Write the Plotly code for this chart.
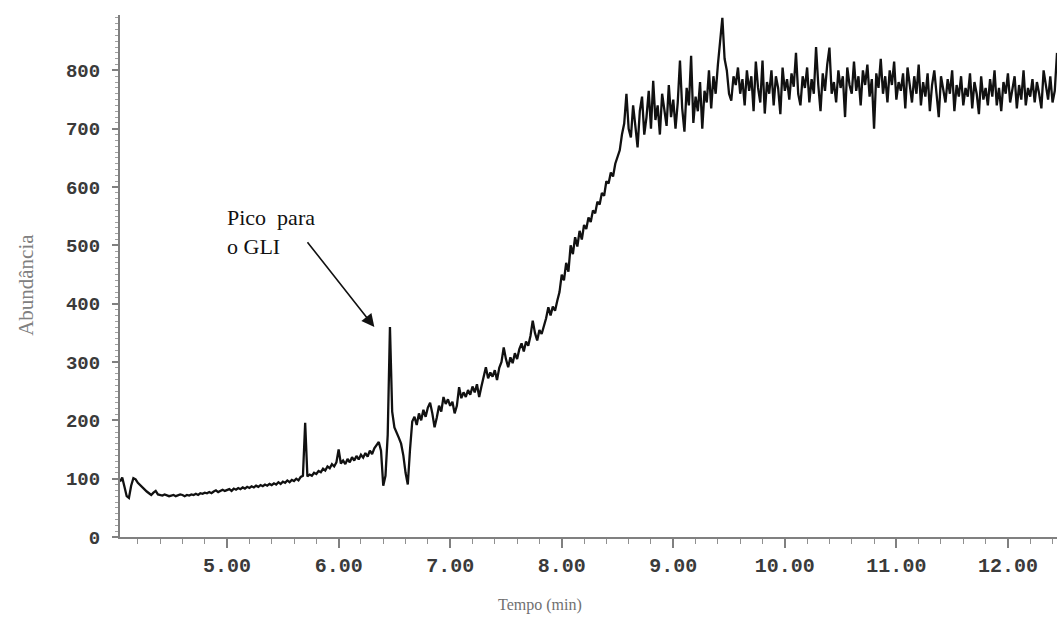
import plotly.graph_objects as go

# Chromatogram: abundance sampled every 0.02 min starting at 4.04 min
t_start = 4.04
t_step = 0.02
abundance = [
    95, 102, 86, 70, 67, 88, 101, 99, 93, 89,          # 4.04
    85, 81, 78, 75, 72, 76, 79, 73, 72, 71,            # 4.24
    73, 72, 70, 71, 72, 70, 71, 73, 72, 70,            # 4.44
    72, 71, 73, 72, 74, 72, 75, 74, 76, 75,            # 4.64
    77, 75, 78, 80, 77, 79, 81, 79, 80, 82,            # 4.84
    79, 83, 81, 84, 82, 85, 83, 86, 84, 87,            # 5.04
    85, 88, 86, 89, 87, 90, 88, 91, 89, 92,            # 5.24
    90, 94, 91, 95, 93, 97, 94, 98, 96, 100,           # 5.44
    97, 103, 105, 196, 104, 107, 105, 110, 108, 113,   # 5.64
    111, 117, 114, 121, 118, 125, 121, 128, 150, 126,  # 5.84
    131, 125, 134, 128, 137, 131, 139, 133, 141, 136,  # 6.04
    144, 138, 148, 142, 152, 158, 163, 148, 88, 105,   # 6.24
    175, 360, 215, 188, 180, 170, 160, 140, 110, 90,   # 6.44
    150, 198, 206, 192, 212, 200, 218, 206, 222, 230,  # 6.64
    212, 188, 205, 225, 215, 240, 228, 236, 225, 232,  # 6.84
    212, 225, 257, 238, 248, 240, 252, 244, 258, 248,  # 7.04
    262, 240, 258, 275, 291, 272, 282, 275, 286, 269,  # 7.24
    290, 300, 325, 305, 291, 308, 298, 315, 305, 322,  # 7.44
    332, 318, 335, 328, 345, 371, 350, 337, 355, 348,  # 7.64
    362, 375, 394, 380, 395, 388, 405, 420, 450, 440,  # 7.84
    470, 455, 500, 485, 514, 498, 525, 510, 535, 528,  # 8.04
    548, 540, 560, 555, 575, 570, 590, 585, 610, 606,  # 8.24
    625, 618, 640, 650, 663, 690, 709, 760, 700, 685,  # 8.44
    740, 705, 668, 730, 755, 690, 720, 765, 700, 782,  # 8.64
    715, 740, 690, 760, 730, 705, 775, 720, 750, 700,  # 8.84
    745, 817, 735, 695, 770, 740, 825, 710, 755, 730,  # 9.04
    780, 700, 765, 745, 800, 735, 790, 760, 810, 850,  # 9.24
    890, 820, 800, 760, 748, 790, 775, 805, 760, 785,  # 9.44
    740, 800, 765, 790, 730, 815, 770, 745, 817, 726,  # 9.64
    780, 760, 800, 740, 790, 770, 725, 805, 765, 785,  # 9.84
    750, 795, 772, 830, 760, 740, 790, 770, 805, 745,  # 10.04
    785, 760, 840, 775, 730, 795, 765, 810, 839, 760,  # 10.24
    780, 745, 800, 770, 790, 720, 805, 775, 760, 815,  # 10.44
    765, 790, 740, 800, 775, 810, 755, 785, 700, 795,  # 10.64
    770, 820, 760, 790, 745, 800, 775, 815, 750, 780,  # 10.84
    765, 795, 735, 805, 770, 745, 790, 760, 810, 740,  # 11.04
    780, 755, 795, 730, 775, 800, 760, 720, 790, 765,  # 11.24
    745, 785, 760, 800, 730, 775, 755, 790, 740, 770,  # 11.44
    755, 795, 735, 780, 760, 725, 790, 750, 770, 740,  # 11.64
    785, 755, 800, 740, 770, 730, 780, 760, 795, 745,  # 11.84
    765, 790, 735, 775, 750, 800, 740, 770, 755, 785,  # 12.04
    745, 780, 760, 735, 800, 770, 750, 790, 745, 765,  # 12.24
    830,                                               # 12.44
]
tempo = [round(t_start + t_step * i, 2) for i in range(len(abundance))]

x_ticks = [5, 6, 7, 8, 9, 10, 11, 12]
x_ticklabels = ["5.00", "6.00", "7.00", "8.00", "9.00", "10.00", "11.00", "12.00"]
y_ticks = [0, 100, 200, 300, 400, 500, 600, 700, 800]

annot_text = "Pico  para<br>o GLI"
annot_pos = (4.98, 572)
arrow_tip = (6.32, 360)
arrow_tail = (5.71, 508)

fig = go.Figure()
fig.add_trace(go.Scatter(
    x=tempo, y=abundance, mode="lines",
    line=dict(color="#111111", width=2.3),
    showlegend=False, hoverinfo="skip",
))

fig.add_annotation(
    x=annot_pos[0], y=annot_pos[1], xref="x", yref="y",
    text=annot_text, showarrow=False, xanchor="left", yanchor="top", align="left",
    font=dict(family="Liberation Serif", size=22, color="#111111"),
)
fig.add_annotation(
    x=arrow_tip[0], y=arrow_tip[1], ax=arrow_tail[0], ay=arrow_tail[1],
    xref="x", yref="y", axref="x", ayref="y", text="",
    showarrow=True, arrowhead=2, arrowsize=1.6, arrowwidth=1.6, arrowcolor="#111111",
)
# axis titles (placed like the original, off-centre)
fig.add_annotation(
    x=0.448, y=0, xref="paper", yref="paper", yanchor="middle", xanchor="center",
    yshift=-68, text="Tempo (min)", showarrow=False,
    font=dict(family="Liberation Serif", size=16, color="#707070"),
)
fig.add_annotation(
    x=0, y=0.483, xref="paper", yref="paper", xanchor="center", yanchor="middle",
    xshift=-94, text="Abundância", textangle=-90, showarrow=False,
    font=dict(family="Liberation Serif", size=21, color="#808080"),
)

fig.update_layout(
    width=1057, height=624,
    margin=dict(l=120, r=0, t=15, b=87),
    paper_bgcolor="white", plot_bgcolor="white",
    xaxis=dict(
        range=[4.04, 12.44], tickvals=x_ticks, ticktext=x_ticklabels,
        showgrid=False, zeroline=False, showline=True, linecolor="#808080", linewidth=2,
        ticks="outside", ticklen=9, tickwidth=1.5, tickcolor="#808080",
        minor=dict(dtick=0.2, ticks="outside", ticklen=5, tickcolor="#909090", tickwidth=1.2),
        tickfont=dict(family="Liberation Mono", size=20, color="#3a3a3a", weight="bold"),
    ),
    yaxis=dict(
        range=[0, 895], tickvals=y_ticks,
        showgrid=False, zeroline=False, showline=True, linecolor="#808080", linewidth=2,
        ticks="outside", ticklen=6, tickwidth=1.5, tickcolor="#808080",
        minor=dict(dtick=10, ticks="outside", ticklen=3, tickcolor="#a0a0a0", tickwidth=1),
        tickfont=dict(family="Liberation Mono", size=19, color="#3a3a3a", weight="bold"),
        ticklabelstandoff=8,
    ),
)

fig.write_html("out.html")
